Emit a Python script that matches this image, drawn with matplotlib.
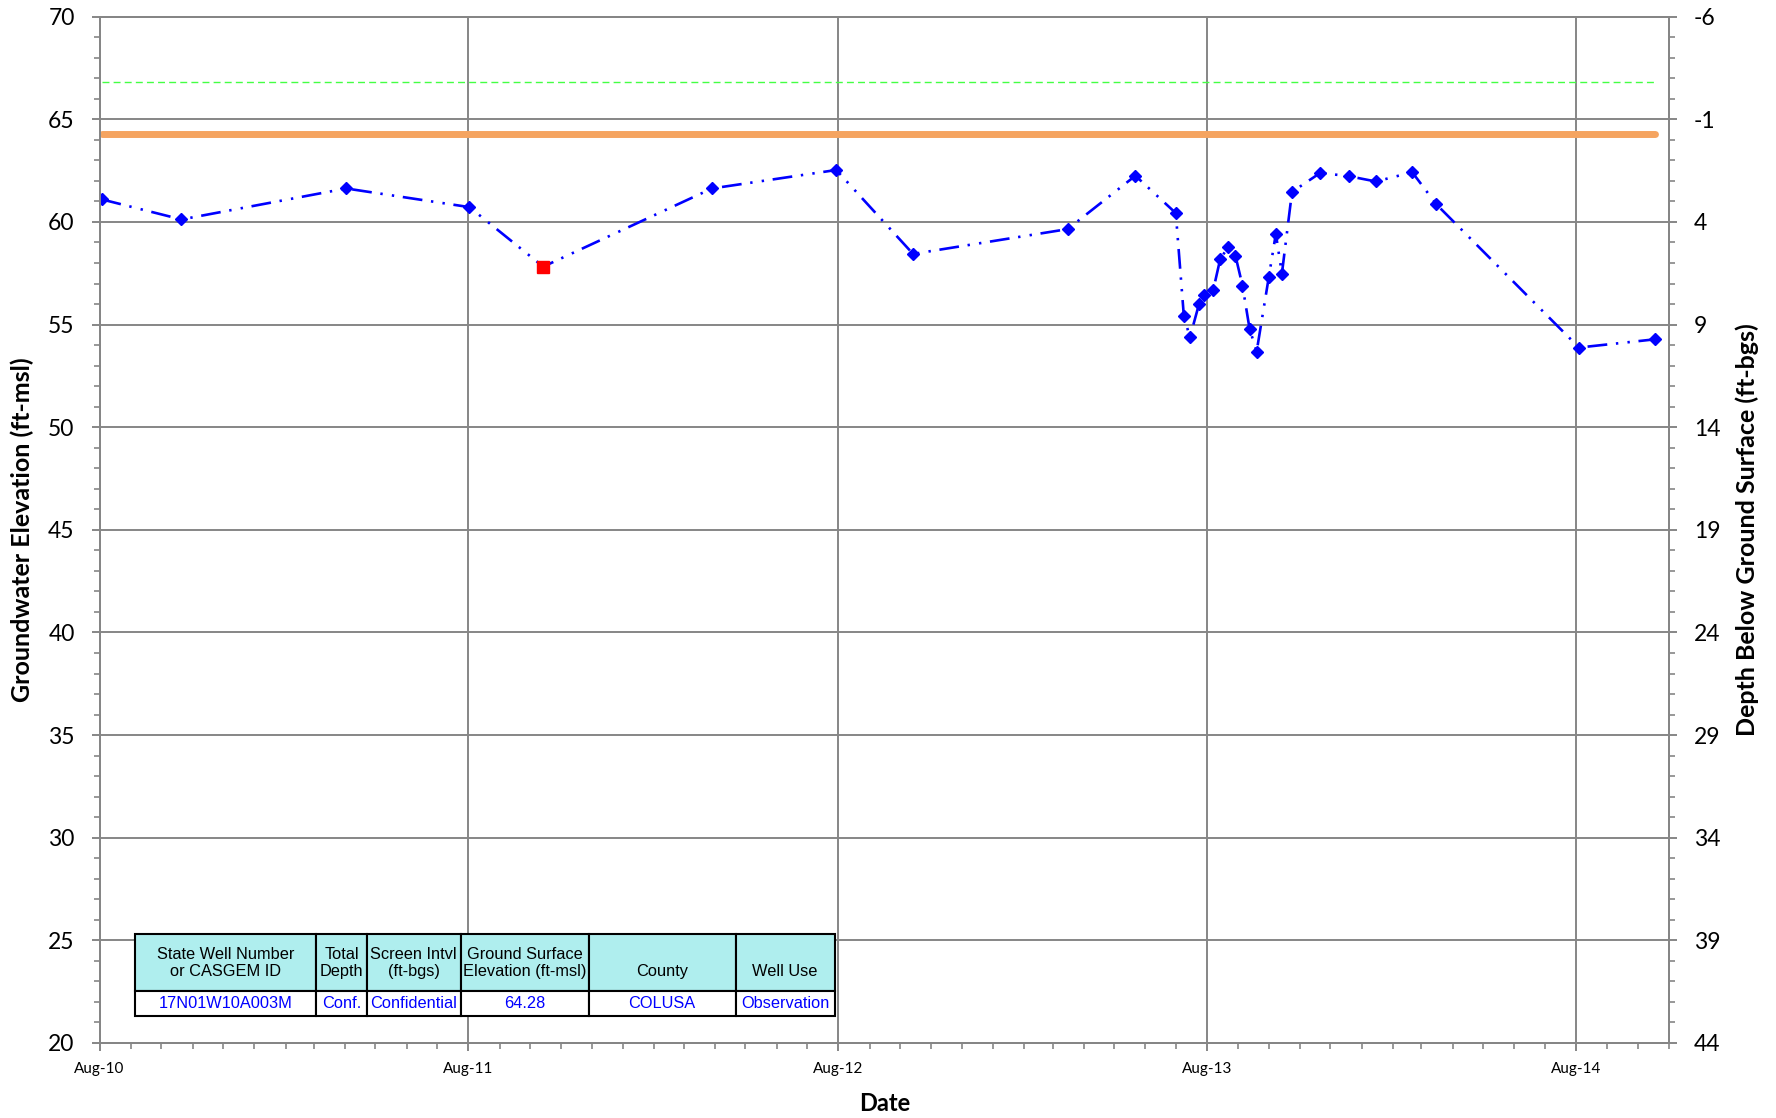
import matplotlib
matplotlib.use('Agg')
import matplotlib.pyplot as plt
import matplotlib.dates as mdates
from matplotlib.ticker import MultipleLocator, FixedLocator
import numpy as np
import pandas as pd

# Mesures de niveau piézométrique (ft-msl)
dates = pd.to_datetime([
    '2010-08-03', '2010-10-21', '2011-04-02', '2011-08-02', '2011-10-14',
    '2012-03-29', '2012-07-30', '2012-10-14', '2013-03-16', '2013-05-22',
    '2013-07-01', '2013-07-09', '2013-07-15', '2013-07-24', '2013-07-29',
    '2013-08-07', '2013-08-14', '2013-08-22', '2013-08-29', '2013-09-05',
    '2013-09-12', '2013-09-19', '2013-10-01', '2013-10-08', '2013-10-14',
    '2013-10-24', '2013-11-21', '2013-12-19', '2014-01-15', '2014-02-20',
    '2014-03-16', '2014-08-04', '2014-10-18'])
elev = [61.1, 60.12, 61.63, 60.72, 57.82,
        61.63, 62.53, 58.44, 59.65, 62.25,
        60.43, 55.4, 54.38, 56.0, 56.44,
        56.67, 58.2, 58.78, 58.36, 56.9,
        54.8, 53.68, 57.3, 59.42, 57.48,
        61.46, 62.39, 62.23, 61.97, 62.42,
        60.85, 53.88, 54.28]

# mesure douteuse (carré rouge)
suspect_idx = 4

ground_surface = 64.28
ref_point = 66.8

table_header = ['State Well Number\nor CASGEM ID', 'Total\nDepth', 'Screen Intvl\n(ft-bgs)',
                'Ground Surface\nElevation (ft-msl)', '\nCounty', '\nWell Use']
table_values = ['17N01W10A003M', 'Conf.', 'Confidential', '64.28', 'COLUSA', 'Observation']
col_widths = [181, 50, 94, 128, 147, 99]

grid_col = '#868686'
plt.rcParams['font.family'] = ['Lato', 'DejaVu Sans']
plt.rcParams['axes.unicode_minus'] = False

fig = plt.figure(figsize=(17.76, 11.18), dpi=100)
ax = fig.add_axes([0.0561, 0.0671, 0.8836, 0.918])

# lignes de référence
ax.plot([dates[0], dates[-1]], [ref_point, ref_point], color='#44FF44', lw=1.0, dashes=(5, 3))
ax.plot([dates[0], dates[-1]], [ground_surface, ground_surface], color='#F5A460', lw=5,
        solid_capstyle='round')

marks = [i for i in range(len(dates)) if i != suspect_idx]
ax.plot(dates, elev, color='#0000FF', lw=1.9, linestyle=(0, (7.5, 3.3, 0.9, 3.5, 0.9, 3.3)),
        marker='D', ms=6.3, markevery=marks, zorder=3)
ax.plot(dates[suspect_idx:suspect_idx + 1], elev[suspect_idx:suspect_idx + 1], 's',
        color='#FF0000', ms=8.5, zorder=4)

ax.set_xlim(pd.Timestamp('2010-08-01'), pd.Timestamp('2014-11-01'))
ax.set_ylim(20, 70)
ax.yaxis.set_major_locator(MultipleLocator(5))
ax.yaxis.set_minor_locator(MultipleLocator(1))
ax.xaxis.set_major_locator(mdates.MonthLocator(bymonth=8, bymonthday=1))
ax.xaxis.set_minor_locator(mdates.MonthLocator())
ax.xaxis.set_major_formatter(mdates.DateFormatter('%b-%y'))

ax.set_axisbelow(True)
ax.grid(which='major', color=grid_col, lw=1.4)

ax2 = ax.twinx()
ax2.set_ylim(44, -6)
ax2.yaxis.set_major_locator(FixedLocator(np.arange(-6, 45, 5)))
ax2.yaxis.set_minor_locator(FixedLocator(np.arange(-6, 45, 1)))

for a in (ax, ax2):
    for s in a.spines.values():
        s.set_color(grid_col)
        s.set_linewidth(1.4)
    a.tick_params(axis='y', which='major', length=6, width=1.4, color=grid_col,
                  labelsize=16.5, pad=12)
    a.tick_params(axis='y', which='minor', length=4.5, width=1.2, color=grid_col)
ax.tick_params(axis='x', which='major', length=6, width=1.4, color=grid_col,
               labelsize=11, pad=8)
ax.tick_params(axis='x', which='minor', length=4.5, width=1.2, color=grid_col)

ax.set_ylabel('Groundwater Elevation (ft-msl)', fontsize=18, fontweight='bold')
ax.yaxis.set_label_coords(-0.0415, 0.5)
ax2.set_ylabel('Depth Below Ground Surface (ft-bgs)', fontsize=18, fontweight='bold')
ax2.yaxis.set_label_coords(1.0425, 0.5)
ax.set_xlabel('Date', fontsize=17, fontweight='bold')
ax.xaxis.set_label_coords(0.5, -0.0477)

# tableau d'info du puits
tbl = ax.table(cellText=[table_header, table_values], colWidths=col_widths,
               cellLoc='center', bbox=[0.0228, 0.0263, 0.4456, 0.0794])
tbl.auto_set_font_size(False)
tbl.set_fontsize(11.8)
tbl.set_zorder(5)
for (r, c), cell in tbl.get_celld().items():
    cell.set_linewidth(1.5)
    cell.set_edgecolor('black')
    txt = cell.get_text()
    txt.set_fontfamily('Liberation Sans')
    txt.set_linespacing(1.15)
    if r == 0:
        cell.set_height(57)
        cell.set_facecolor('#AFEEEE')
        txt.set_color('black')
    else:
        cell.set_height(25)
        cell.set_facecolor('white')
        txt.set_color('#0000FF')

fig.savefig('out.png', dpi=100)
